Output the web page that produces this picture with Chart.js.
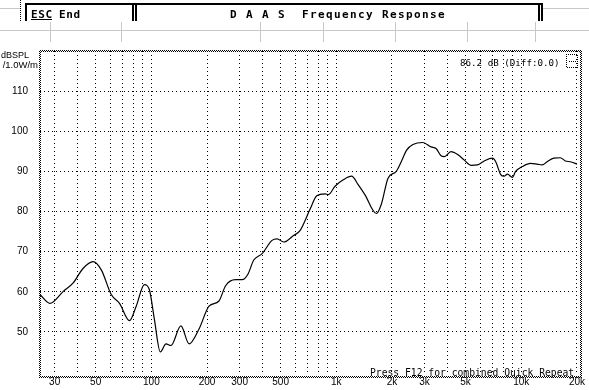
<!DOCTYPE html>
<html><head><meta charset="utf-8">
<script src="https://cdn.jsdelivr.net/npm/chart.js@4.4.1/dist/chart.umd.min.js"></script>
<style>
html,body{margin:0;padding:0;background:#fff;overflow:hidden}
#wrap{position:relative;width:589px;height:390px;background:#fff}
canvas{display:block}
</style></head>
<body><div id="wrap"><canvas id="c" width="589" height="390"></canvas></div>
<script>
// ---- data ----
const freqHz = [25, 28.3, 33.4, 37.8, 42.7, 48.4, 53.7, 60.7, 67.3, 76.2, 82.8, 91.7, 97.6, 103.8, 111.8, 120, 127.6, 144.5, 160, 181, 205, 232, 252, 285, 310, 332, 358, 397, 449, 478, 519, 587, 638, 722, 784, 870, 906, 984, 1091, 1209, 1313, 1427, 1647, 1752, 1904, 2110, 2250, 2400, 2595, 2937, 3255, 3463, 3683, 3843, 4167, 4530, 4921, 5341, 5803, 6303, 6987, 7278, 7742, 8072, 8413, 8948, 9320, 10130, 11226, 12193, 12972, 13800, 14995, 16272, 17307, 18412, 19585, 20000];
const splDb = [59.3, 57.1, 60.1, 62.2, 65.8, 67.5, 65.4, 59.3, 57.1, 52.8, 56.4, 61.8, 60.5, 53.2, 45.0, 47.0, 46.6, 51.5, 47.0, 50.7, 56.4, 57.7, 61.5, 63.0, 63.0, 64.3, 67.9, 69.5, 72.8, 73.2, 72.4, 74.0, 75.3, 80.6, 83.9, 84.4, 84.2, 86.3, 87.9, 88.8, 86.7, 84.2, 79.5, 81.8, 88.3, 90.0, 92.5, 95.3, 96.7, 97.2, 96.1, 95.7, 93.9, 93.7, 94.9, 94.2, 92.8, 91.5, 91.6, 92.6, 93.3, 92.4, 89.2, 88.8, 89.3, 88.5, 90.0, 91.2, 92.0, 91.8, 91.6, 92.4, 93.3, 93.4, 92.6, 92.4, 92.0, 91.8];
const xGridHz = [30, 40, 50, 60, 70, 80, 90, 100, 200, 300, 400, 500, 600, 700, 800, 900, 1000, 2000, 3000, 4000, 5000, 6000, 7000, 8000, 9000, 10000, 20000];
const xLabelHz = [30, 50, 100, 200, 300, 500, 1000, 2000, 3000, 5000, 10000, 20000];
const xLabelText = ['30', '50', '100', '200', '300', '500', '1k', '2k', '3k', '5k', '10k', '20k'];
const yTicksDb = [50, 60, 70, 80, 90, 100, 110];
const titleText = 'D A A S  Frequency Response';
const escKey = 'ESC';
const escAction = 'End';
const yUnit1 = 'dBSPL';
const yUnit2 = '/1.0W/m';
const readoutText = '86.2 dB (Diff:0.0)';
const footerText = 'Press F12 for combined Quick Repeat';

function spacedText(ctx, txt, x, y, sp) {
  if ('letterSpacing' in ctx) {
    ctx.letterSpacing = sp + 'px';
    ctx.fillText(txt, x, y);
    ctx.letterSpacing = '0px';
  } else {
    let cx = x;
    for (const ch of txt) { ctx.fillText(ch, cx, y); cx += ctx.measureText(ch).width + sp; }
  }
}
function checkerH(ctx, x0, x1, y) { for (let x = x0; x <= x1; x++) if ((x + y) % 2 === 0) ctx.fillRect(x, y, 1, 1); }
function checkerV(ctx, x, y0, y1) { for (let y = y0; y <= y1; y++) if ((x + y) % 2 === 0) ctx.fillRect(x, y, 1, 1); }

const decor = {
  id: 'decor',
  afterDraw(chart) {
    const ctx = chart.ctx;
    ctx.save();
    // header gray rules
    ctx.fillStyle = '#c8c8c8';
    ctx.fillRect(0, 30, 589, 1);
    ctx.fillRect(0, 8, 20, 1);
    ctx.fillRect(543, 8, 46, 1);
    [50, 121, 260, 323, 395, 467, 535].forEach(x => ctx.fillRect(x, 22, 1, 20));
    // dotted left marker
    ctx.fillStyle = '#000';
    for (let y = 0; y < 21; y += 2) ctx.fillRect(20, y, 1, 1);
    // header boxes
    ctx.fillRect(25, 3, 517, 2);
    ctx.fillRect(25, 3, 2, 18);
    ctx.fillRect(132, 3, 2, 18);
    ctx.fillRect(135, 3, 2, 18);
    ctx.fillRect(538, 3, 2, 18);
    ctx.fillRect(541, 3, 2, 18);
    ctx.textBaseline = 'alphabetic';
    ctx.textAlign = 'left';
    ctx.font = 'bold 11px "DejaVu Sans Mono"';
    spacedText(ctx, escKey, 31, 18, 0.6);
    ctx.fillRect(31, 19, 21, 1);
    spacedText(ctx, escAction, 59, 18, 0.6);
    spacedText(ctx, titleText, 230, 18, 1.38);
    // plot frame (dithered)
    checkerH(ctx, 39, 581, 50); checkerH(ctx, 39, 581, 51);
    checkerH(ctx, 39, 581, 376); checkerH(ctx, 39, 581, 377);
    checkerV(ctx, 39, 50, 377); checkerV(ctx, 40, 50, 377);
    checkerV(ctx, 580, 50, 377); checkerV(ctx, 581, 50, 377);
    // small icon top-right
    checkerH(ctx, 566, 577, 54); checkerH(ctx, 566, 577, 67);
    checkerV(ctx, 566, 54, 67); checkerV(ctx, 577, 54, 67);
    checkerH(ctx, 568, 575, 61);
    // axis unit
    ctx.font = '9px "Liberation Sans"';
    ctx.textAlign = 'right';
    ctx.fillText(yUnit1, 29, 58);
    ctx.font = '9.5px "Liberation Sans"';
    ctx.fillText(yUnit2, 38, 68);
    // readouts
    ctx.textAlign = 'left';
    ctx.font = '9.2px "DejaVu Sans Mono"';
    ctx.fillText(readoutText, 460, 66);
    ctx.font = '9.7px "DejaVu Sans Mono"';
    ctx.fillText(footerText, 370, 376);
    ctx.restore();
  }
};

const points = freqHz.map((f, i) => ({ x: f, y: splDb[i] }));

new Chart(document.getElementById('c'), {
  type: 'line',
  data: { datasets: [{ data: points, borderColor: '#000', borderWidth: 1.2, pointRadius: 0, fill: false, cubicInterpolationMode: 'monotone' }] },
  options: {
    responsive: false, animation: false, devicePixelRatio: 1,
    layout: { padding: { left: 0, right: 9, top: 51, bottom: 0 } },
    plugins: { legend: { display: false }, tooltip: { enabled: false }, title: { display: false } },
    scales: {
      x: {
        type: 'logarithmic', min: 25, max: 20000,
        afterBuildTicks: s => { s.ticks = xGridHz.map(v => ({ value: v })); },
        afterFit: s => { s.height = 13; },
        grid: { color: '#000', lineWidth: 1, drawTicks: false },
        border: { display: false, dash: [1, 3] },
        ticks: {
          autoSkip: false, maxRotation: 0, minRotation: 0, padding: 4, color: '#000',
          font: { family: '"Liberation Sans"', size: 10 },
          callback: v => { const i = xLabelHz.indexOf(v); return i >= 0 ? xLabelText[i] : ''; }
        }
      },
      y: {
        type: 'linear', min: 40, max: 120,
        afterBuildTicks: s => { s.ticks = yTicksDb.map(v => ({ value: v })); },
        afterFit: s => { s.width = 40; },
        grid: { color: '#000', lineWidth: 1, drawTicks: false },
        border: { display: false, dash: [1, 3] },
        ticks: { padding: 12, color: '#000', font: { family: '"Liberation Sans"', size: 10 } }
      }
    }
  },
  plugins: [decor]
});
</script>
</body></html>
